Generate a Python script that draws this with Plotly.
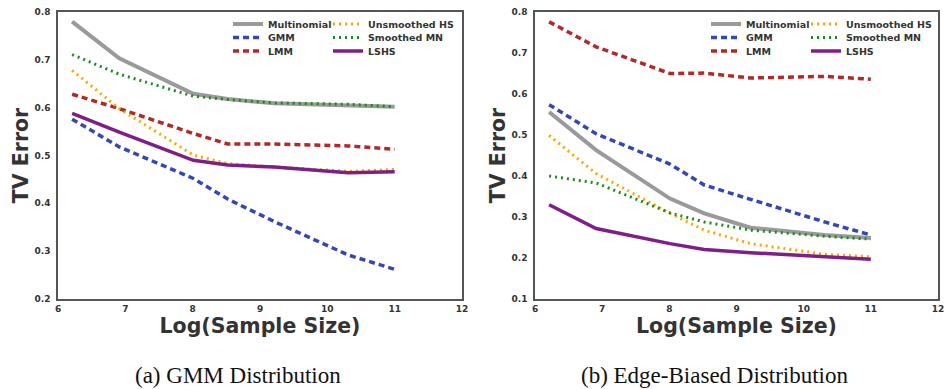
import plotly.graph_objects as go

log_n = [6.21, 6.91, 8.01, 8.52, 9.21, 10.31, 11.0]
methods = ["Multinomial", "GMM", "LMM", "Unsmoothed HS", "Smoothed MN", "LSHS"]

gmm_multinomial = [0.780, 0.703, 0.629, 0.618, 0.609, 0.605, 0.602]
gmm_gmm = [0.576, 0.518, 0.452, 0.409, 0.362, 0.292, 0.262]
gmm_lmm = [0.628, 0.598, 0.546, 0.524, 0.524, 0.520, 0.513]
gmm_unsmoothed = [0.678, 0.598, 0.501, 0.483, 0.476, 0.467, 0.471]
gmm_smoothed = [0.711, 0.670, 0.624, 0.617, 0.610, 0.607, 0.602]
gmm_lshs = [0.588, 0.549, 0.490, 0.480, 0.476, 0.464, 0.466]

edge_multinomial = [0.556, 0.463, 0.345, 0.309, 0.274, 0.256, 0.249]
edge_gmm = [0.574, 0.503, 0.429, 0.378, 0.343, 0.288, 0.256]
edge_lmm = [0.776, 0.715, 0.650, 0.651, 0.639, 0.643, 0.636]
edge_unsmoothed = [0.499, 0.406, 0.309, 0.268, 0.235, 0.209, 0.203]
edge_smoothed = [0.400, 0.383, 0.310, 0.288, 0.268, 0.253, 0.246]
edge_lshs = [0.330, 0.272, 0.235, 0.221, 0.213, 0.202, 0.197]

x_ticks = [6, 7, 8, 9, 10, 11, 12]
captions = ["(a) GMM Distribution", "(b) Edge-Biased Distribution"]

styles = {
    "Multinomial": dict(color="#9a9a9a", width=4, dash="solid"),
    "GMM": dict(color="#3447b3", width=3.5, dash="6px,4px"),
    "LMM": dict(color="#b02a2a", width=3.5, dash="6px,4px"),
    "Unsmoothed HS": dict(color="#ffa500", width=3, dash="2px,4px"),
    "Smoothed MN": dict(color="#1e8a1e", width=3, dash="2px,4px"),
    "LSHS": dict(color="#7d1f86", width=3.5, dash="solid"),
}
# legend rows and columns
rows = {"Multinomial": 0, "Unsmoothed HS": 0, "GMM": 1, "Smoothed MN": 1, "LMM": 2, "LSHS": 2}
cols = {"Multinomial": 0, "GMM": 0, "LMM": 0, "Unsmoothed HS": 1, "Smoothed MN": 1, "LSHS": 1}

W, H = 945, 389
T, B = 12, 90
PH = H - T - B
dom_left = [58 / W, 462 / W]
dom_right = [535 / W, 938 / W]

fig = go.Figure()
panels = [
    (dict(zip(methods, [gmm_multinomial, gmm_gmm, gmm_lmm, gmm_unsmoothed, gmm_smoothed, gmm_lshs])), "x", "y", 0),
    (dict(zip(methods, [edge_multinomial, edge_gmm, edge_lmm, edge_unsmoothed, edge_smoothed, edge_lshs])), "x2", "y2", 3),
]
for data, xa, ya, loff in panels:
    for m in methods:
        li = loff + rows[m] + 1
        lname = "legend" if li == 1 else f"legend{li}"
        fig.add_trace(go.Scatter(
            x=log_n, y=data[m], mode="lines", name=m, xaxis=xa, yaxis=ya,
            line=styles[m], legend=lname, showlegend=True,
            legendwidth=55 if cols[m] == 0 else 84,
        ))

tickfont = dict(family="DejaVu Sans", size=9, color="#333333", weight="bold")
title_font = dict(family="DejaVu Sans", size=20.5, color="#333333", weight="bold")
axis_common = dict(showline=True, mirror=True, linecolor="#555555", linewidth=1.5,
                   showgrid=False, zeroline=False, ticks="", tickfont=tickfont,
                   automargin=False)

layout = dict(
    width=W, height=H,
    margin=dict(l=0, r=0, t=T, b=B),
    paper_bgcolor="white", plot_bgcolor="white",
    xaxis=dict(domain=dom_left, range=[6, 12], tickvals=x_ticks, anchor="y",
               title=dict(text="Log(Sample Size)", font=title_font, standoff=4), **axis_common),
    yaxis=dict(domain=[0, 1], range=[0.2, 0.8], dtick=0.1, tickformat=".1f", anchor="x",
               ticklabelstandoff=4,
               title=dict(text="TV Error", font=title_font, standoff=0), **axis_common),
    xaxis2=dict(domain=dom_right, range=[6, 12], tickvals=x_ticks, anchor="y2",
                title=dict(text="Log(Sample Size)", font=title_font, standoff=4), **axis_common),
    yaxis2=dict(domain=[0, 1], range=[0.1, 0.8], dtick=0.1, tickformat=".1f", anchor="x2",
                ticklabelstandoff=4,
                title=dict(text="TV Error", font=title_font, standoff=0), **axis_common),
)

legend_font = dict(family="DejaVu Sans", size=9.5, color="#333333", weight="bold")
row_y = [24, 37.5, 51]
for p, left_px in enumerate([228, 706]):
    for r in range(3):
        li = p * 3 + r + 1
        key = "legend" if li == 1 else f"legend{li}"
        layout[key] = dict(
            orientation="h", x=left_px / W, xanchor="left",
            y=1 - (row_y[r] - T) / PH, yanchor="middle",
            bgcolor="rgba(0,0,0,0)", font=legend_font,
            entrywidthmode="pixels",
            borderwidth=0, itemclick=False,
        )

fig.update_layout(**layout)

for cx, txt in zip([238, 715], captions):
    fig.add_annotation(text=txt, x=cx / W, y=-(375 - (H - B)) / PH, xref="paper", yref="paper",
                       yanchor="middle", xanchor="center", showarrow=False,
                       font=dict(family="Liberation Serif", size=23, color="#111111"))

fig.write_html(
    "out.html",
    config={"displayModeBar": False},
    post_script="document.body.style.margin='0';document.body.style.overflow='hidden';"
                "document.documentElement.style.overflow='hidden';",
)
